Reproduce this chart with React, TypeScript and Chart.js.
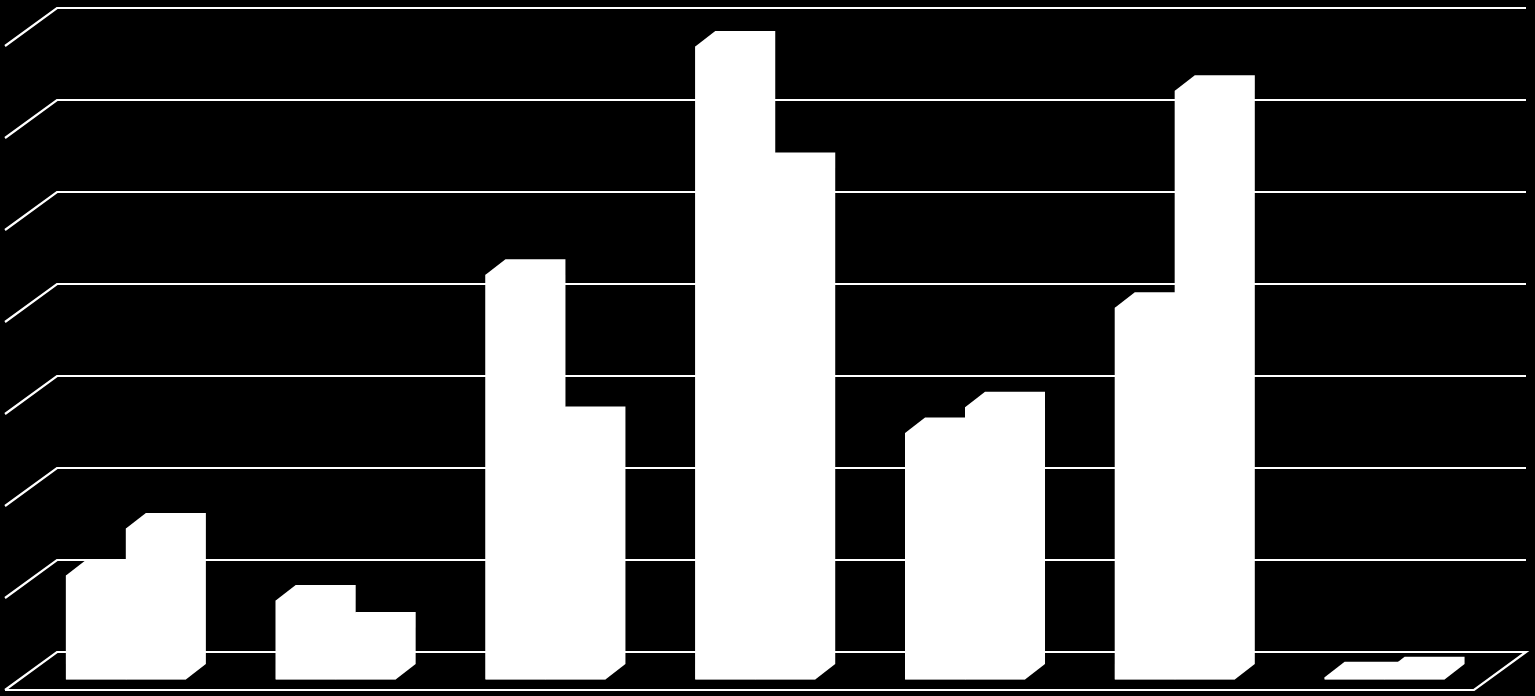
import React, { useEffect, useRef } from "react";
import { Chart, registerables } from "chart.js";

Chart.register(...registerables);

const categories = ["1", "2", "3", "4", "5", "6", "7"];
const seriesA = [1.13, 0.86, 4.4, 6.88, 2.68, 4.04, 0.025];
const seriesB = [1.64, 0.565, 2.8, 5.56, 2.96, 6.4, 0.08];
const gridTicks = [0, 1, 2, 3, 4, 5, 6, 7];

const WALL_DX = 36;
const WALL_DY = 27.5;
const SIDE_DX = 52;
const SIDE_DY = 38;
const BAR_DX = 20;
const BAR_DY = 15.5;

const depthPlugin = {
  id: "depth3d",
  beforeDatasetsDraw(chart: any) {
    const { ctx, chartArea, scales } = chart;
    const left = chartArea.left + WALL_DX;
    const right = chartArea.right + WALL_DX + 0.5;
    ctx.save();
    ctx.strokeStyle = "#ffffff";
    ctx.lineWidth = 2.2;
    ctx.lineJoin = "miter";
    gridTicks.forEach((value) => {
      const y = scales.y.getPixelForValue(value) - WALL_DY;
      ctx.beginPath();
      ctx.moveTo(left - SIDE_DX, y + SIDE_DY);
      ctx.lineTo(left, y);
      ctx.lineTo(right, y);
      if (value === 0) {
        ctx.lineTo(right - SIDE_DX, y + SIDE_DY);
        ctx.lineTo(left - SIDE_DX, y + SIDE_DY);
      }
      ctx.stroke();
    });
    ctx.restore();
  },
  afterDatasetsDraw(chart: any) {
    const { ctx } = chart;
    ctx.save();
    ctx.fillStyle = "#ffffff";
    chart.data.datasets.forEach((_: any, i: number) => {
      chart.getDatasetMeta(i).data.forEach((bar: any) => {
        const { x, y, base, width } = bar.getProps(["x", "y", "base", "width"], true);
        const l = x - width / 2;
        const r = x + width / 2;
        // Outline of the whole block, so no seam shows between the faces.
        ctx.beginPath();
        ctx.moveTo(l, base);
        ctx.lineTo(l, y);
        ctx.lineTo(l + BAR_DX, y - BAR_DY);
        ctx.lineTo(r + BAR_DX, y - BAR_DY);
        ctx.lineTo(r + BAR_DX, base - BAR_DY);
        ctx.lineTo(r, base);
        ctx.closePath();
        ctx.fill();
      });
    });
    ctx.restore();
  },
};

export default function App() {
  const ref = useRef<HTMLCanvasElement>(null);

  useEffect(() => {
    document.body.style.margin = "0";
    document.body.style.background = "#000";
    const chart = new Chart(ref.current as HTMLCanvasElement, {
      type: "bar",
      data: {
        labels: categories,
        datasets: [
          { label: "A", data: seriesA, backgroundColor: "#ffffff", borderWidth: 0 },
          { label: "B", data: seriesB, backgroundColor: "#ffffff", borderWidth: 0 },
        ],
      },
      options: {
        responsive: false,
        animation: false,
        layout: { padding: { left: 21, right: 45.5, top: 35.5, bottom: 16.5 } },
        plugins: { legend: { display: false }, tooltip: { enabled: false }, title: { display: false } },
        datasets: { bar: { barPercentage: 1, categoryPercentage: 120 / 209.86 } },
        scales: {
          x: { display: false },
          y: { display: false, min: 0, max: 7, ticks: { stepSize: 1 } },
        },
      },
      plugins: [depthPlugin],
    } as any);
    return () => chart.destroy();
  }, []);

  return (
    <div style={{ width: 1535, height: 696, background: "#000", overflow: "hidden" }}>
      <canvas ref={ref} width={1535} height={696} style={{ display: "block" }} />
    </div>
  );
}
